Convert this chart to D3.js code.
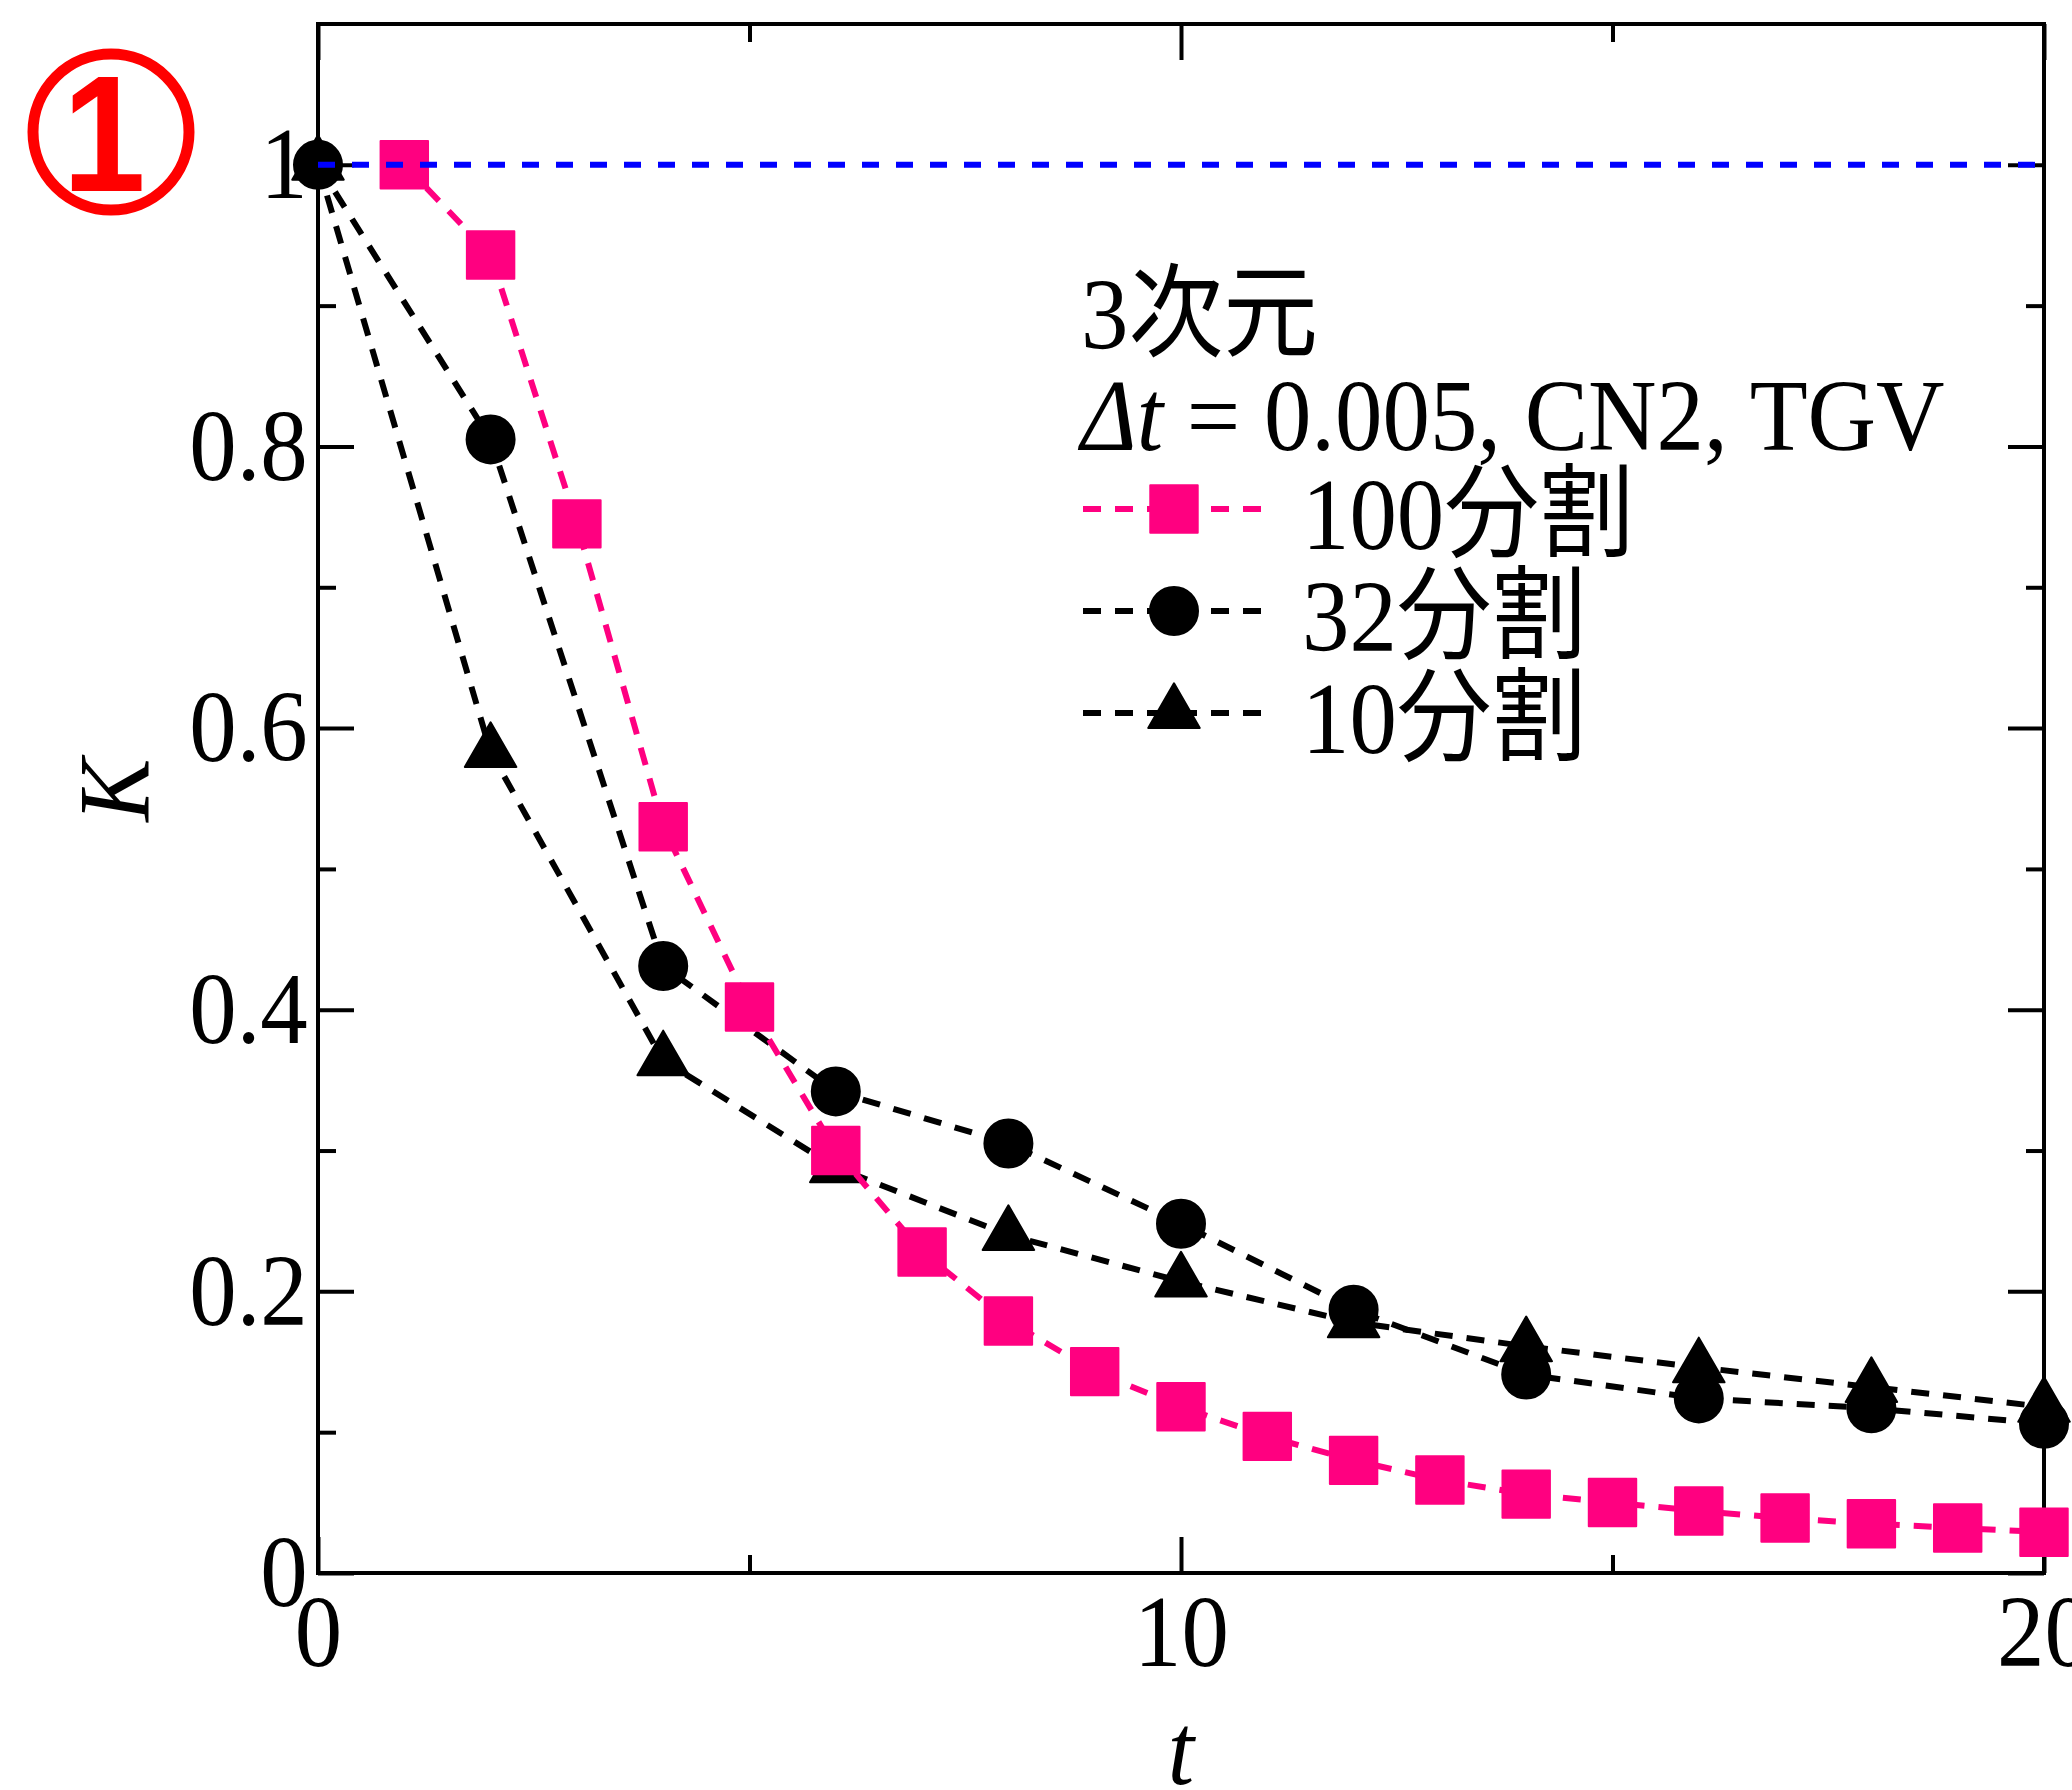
<!DOCTYPE html>
<html>
<head>
<meta charset="utf-8">
<script src="https://cdn.jsdelivr.net/npm/d3@7"></script>
<style>
  body { margin: 0; background: #fff; }
  svg { display: block; }
</style>
</head>
<body>
<script>
// data
const t_100 = [1, 2, 3, 4, 5, 6, 7, 8, 9, 10, 11, 12, 13, 14, 15, 16, 17, 18, 19, 20];
const k_100 = [1.0, 0.936, 0.745, 0.530, 0.402, 0.300, 0.228, 0.179, 0.143, 0.118,
               0.097, 0.080, 0.066, 0.056, 0.050, 0.044, 0.039, 0.035, 0.032, 0.029];
const t_32 = [0, 2, 4, 6, 8, 10, 12, 14, 16, 18, 20];
const k_32 = [1.0, 0.805, 0.431, 0.342, 0.305, 0.248, 0.187, 0.141, 0.124, 0.117, 0.106];
const t_10 = [0, 2, 4, 6, 8, 10, 12, 14, 16, 18, 20];
const k_10 = [1.0, 0.583, 0.364, 0.288, 0.240, 0.207, 0.178, 0.161, 0.146, 0.132, 0.118];
const reference_level = 1.0;

const legend_title = ["3次元", "Δt = 0.005, CN2, TGV"];
const series_names = ["100分割", "32分割", "10分割"];
const x_major = [0, 10, 20];
const x_minor = [5, 15];
const y_major = [0, 0.2, 0.4, 0.6, 0.8, 1];
const y_minor = [0.1, 0.3, 0.5, 0.7, 0.9];

// setup
const WIDTH = 2072, HEIGHT = 1790;
const LEFT = 318, RIGHT = 2044, TOP = 24, BOTTOM = 1573;
const FONT = "'Liberation Serif', 'Times New Roman', 'Noto Sans CJK JP', serif";
const FONT_SIZE = 102;
const SQUEEZE = "scale(0.93,1)"; // the type in the original is a bit narrow
const PINK = "#ff0080";
const MAJOR = 36, MINOR = 18;

const svg = d3.select("body").append("svg")
    .attr("width", WIDTH)
    .attr("height", HEIGHT);

const x = d3.scaleLinear().domain([0, 20]).range([LEFT, RIGHT]);
const y = d3.scaleLinear().domain([0, 1.1]).range([BOTTOM, TOP]);

const style_axis = function (g) {
    g.select(".domain").remove();
    g.selectAll("line").attr("stroke", "#000").attr("stroke-width", 4);
    g.selectAll("text")
        .attr("font-family", FONT)
        .attr("font-size", FONT_SIZE)
        .attr("fill", "#000")
        .attr("transform", SQUEEZE);
};

// axes, ticks point inwards on all four sides
const axes = svg.append("g");
axes.append("g").attr("transform", `translate(0,${BOTTOM})`)
    .call(d3.axisBottom(x).tickValues(x_major).tickSize(-MAJOR).tickPadding(21).tickFormat(d3.format("d")))
    .call(style_axis);
axes.append("g").attr("transform", `translate(0,${BOTTOM})`)
    .call(d3.axisBottom(x).tickValues(x_minor).tickSize(-MINOR).tickFormat(""))
    .call(style_axis);
axes.append("g").attr("transform", `translate(0,${TOP})`)
    .call(d3.axisTop(x).tickValues(x_major).tickSize(-MAJOR).tickFormat(""))
    .call(style_axis);
axes.append("g").attr("transform", `translate(0,${TOP})`)
    .call(d3.axisTop(x).tickValues(x_minor).tickSize(-MINOR).tickFormat(""))
    .call(style_axis);
axes.append("g").attr("transform", `translate(${LEFT},0)`)
    .call(d3.axisLeft(y).tickValues(y_major).tickSize(-MAJOR).tickPadding(11).tickFormat(d => d === 0 || d === 1 ? d3.format("d")(d) : d3.format(".1f")(d)))
    .call(style_axis);
axes.append("g").attr("transform", `translate(${LEFT},0)`)
    .call(d3.axisLeft(y).tickValues(y_minor).tickSize(-MINOR).tickFormat(""))
    .call(style_axis);
axes.append("g").attr("transform", `translate(${RIGHT},0)`)
    .call(d3.axisRight(y).tickValues(y_major).tickSize(-MAJOR).tickFormat(""))
    .call(style_axis);
axes.append("g").attr("transform", `translate(${RIGHT},0)`)
    .call(d3.axisRight(y).tickValues(y_minor).tickSize(-MINOR).tickFormat(""))
    .call(style_axis);

svg.append("rect")
    .attr("x", LEFT).attr("y", TOP)
    .attr("width", RIGHT - LEFT).attr("height", BOTTOM - TOP)
    .attr("fill", "none").attr("stroke", "#000").attr("stroke-width", 4);

// axis titles
svg.append("text")
    .attr("transform", `translate(${(LEFT + RIGHT) / 2},1784) ${SQUEEZE}`)
    .attr("text-anchor", "middle")
    .attr("font-family", FONT).attr("font-size", FONT_SIZE).attr("font-style", "italic")
    .text("t");
svg.append("text")
    .attr("transform", `translate(149,790) rotate(-90) ${SQUEEZE}`)
    .attr("text-anchor", "middle")
    .attr("font-family", FONT).attr("font-size", FONT_SIZE).attr("font-style", "italic")
    .text("K");

// series
const series = [
    {t: t_10, k: k_10, color: "#000", symbol: d3.symbolTriangle, size: 1150},
    {t: t_32, k: k_32, color: "#000", symbol: d3.symbolCircle, size: 1810},
    {t: t_100, k: k_100, color: PINK, symbol: d3.symbolSquare, size: 2250}
];
const legend_order = [2, 1, 0];

const line = d3.line().x(d => x(d[0])).y(d => y(d[1]));
const plot = svg.append("g");

series.forEach(s => {
    const points = d3.zip(s.t, s.k);
    plot.append("path")
        .datum(points)
        .attr("d", line)
        .attr("fill", "none")
        .attr("stroke", s.color)
        .attr("stroke-width", 6)
        .attr("stroke-dasharray", "18,14");
    plot.selectAll(null)
        .data(points)
        .enter()
        .append("path")
        .attr("transform", d => `translate(${x(d[0])},${y(d[1])})`)
        .attr("d", d3.symbol().type(s.symbol).size(s.size))
        .attr("fill", s.color)
        .attr("stroke", s.color)
        .attr("stroke-width", 2)
        .attr("stroke-linejoin", "round");
});

// blue reference line, drawn on top
plot.append("line")
    .attr("x1", x(0)).attr("x2", x(20))
    .attr("y1", y(reference_level)).attr("y2", y(reference_level))
    .attr("stroke", "#0000ff")
    .attr("stroke-width", 6)
    .attr("stroke-dasharray", "17,17");

// legend
const legend = svg.append("g");
legend_title.forEach((txt, i) => {
    const el = legend.append("text")
        .attr("transform", `translate(1081,${349 + i * 101}) ${SQUEEZE}`)
        .attr("font-family", FONT).attr("font-size", FONT_SIZE);
    if (txt.startsWith("Δt")) {
        el.append("tspan").attr("font-style", "italic").text("Δt");
        el.append("tspan").text(txt.slice(2));
    } else {
        el.text(txt);
    }
});
legend_order.forEach((si, row) => {
    const s = series[si];
    const cy = 509 + row * 102;
    legend.append("line")
        .attr("x1", 1083).attr("x2", 1271)
        .attr("y1", cy).attr("y2", cy)
        .attr("stroke", s.color)
        .attr("stroke-width", 6)
        .attr("stroke-dasharray", "18,14");
    legend.append("path")
        .attr("transform", `translate(1174,${cy})`)
        .attr("d", d3.symbol().type(s.symbol).size(s.size))
        .attr("fill", s.color)
        .attr("stroke", s.color)
        .attr("stroke-width", 2)
        .attr("stroke-linejoin", "round");
    legend.append("text")
        .attr("transform", `translate(1302,${cy + 40}) ${SQUEEZE}`)
        .attr("font-family", FONT).attr("font-size", FONT_SIZE)
        .text(series_names[row]);
});

// panel marker
svg.append("circle")
    .attr("cx", 111).attr("cy", 132)
    .attr("r", 78)
    .attr("fill", "none")
    .attr("stroke", "#ff0000")
    .attr("stroke-width", 11);
svg.append("text")
    .attr("transform", "translate(104,191) scale(0.9,1)")
    .attr("text-anchor", "middle")
    .attr("font-family", "'Liberation Sans', Arial, sans-serif")
    .attr("font-weight", "bold")
    .attr("font-size", 166)
    .attr("fill", "#ff0000")
    .text("1");
</script>
</body>
</html>
